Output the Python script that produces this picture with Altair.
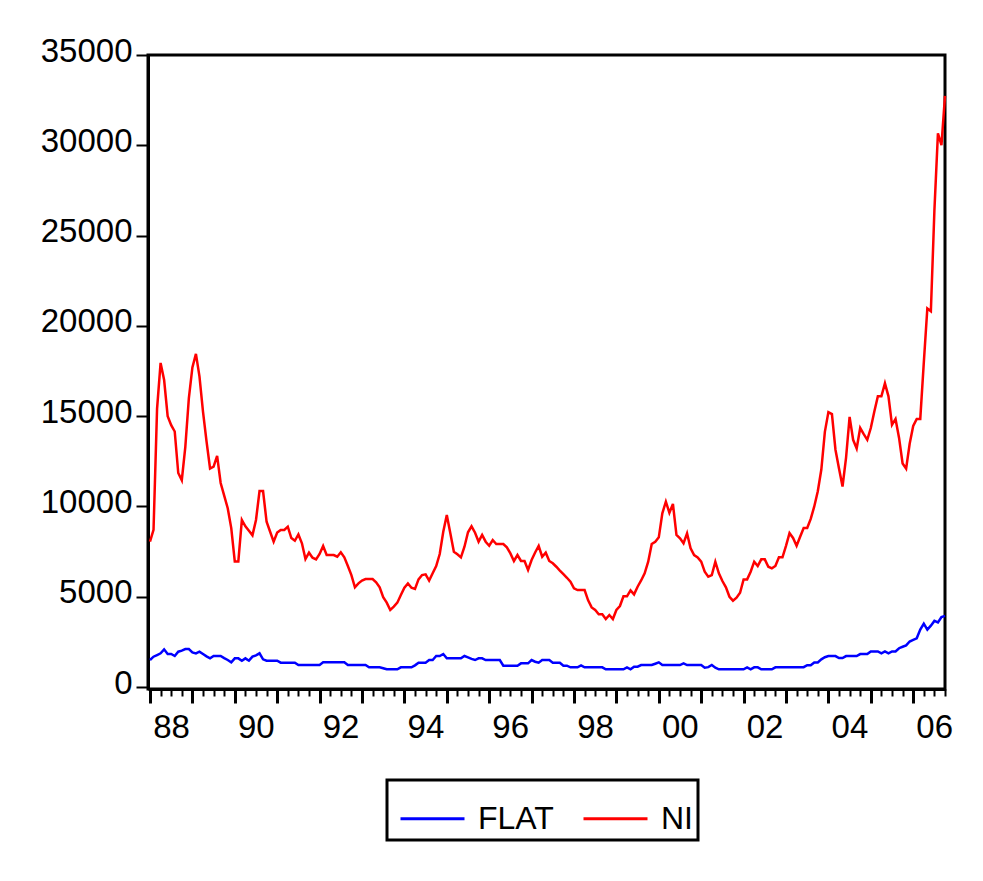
import altair as alt
import pandas as pd

# Monthly observations, 1988M01 onwards
start = "1988-01-01"

ni = [8050, 8700, 15400, 17950, 17000, 15000, 14500, 14150, 11850, 11450,
      13300, 16000, 17700, 18450, 17200, 15250, 13600, 12100, 12200, 12800,
      11300, 10600, 9900, 8800, 6950, 6950, 9250, 8900, 8650, 8400,
      9250, 10850, 10850, 9150, 8600, 8050, 8550, 8700, 8700, 8880,
      8250, 8100, 8450, 7960, 7090, 7440, 7160, 7070, 7365, 7810,
      7310, 7310, 7310, 7216, 7460, 7180, 6700, 6200, 5520, 5740,
      5900, 5980, 5980, 5980, 5800, 5520, 4970, 4670, 4265, 4450,
      4670, 5100, 5500, 5740, 5500, 5430, 5960, 6200, 6240, 5890,
      6300, 6700, 7365, 8600, 9525, 8510, 7490, 7350, 7180, 7770,
      8570, 8900, 8545, 8047, 8420, 8047, 7825, 8140, 7920, 7920,
      7920, 7735, 7400, 6980, 7310, 6980, 6980, 6480, 7030, 7450,
      7810, 7216, 7440, 6980, 6850, 6660, 6450, 6250, 6050, 5830,
      5465, 5370, 5370, 5370, 4800, 4410, 4265, 4025, 4025, 3765,
      3987, 3765, 4265, 4485, 5020, 5020, 5350, 5130, 5555, 5900,
      6300, 6940, 7920, 8047, 8290, 9620, 10262, 9650, 10135, 8420,
      8235, 7960, 8510, 7680, 7310, 7180, 6940, 6385, 6110, 6200,
      6940, 6300, 5870, 5520, 5000, 4780, 4945, 5220, 5960, 5960,
      6385, 6940, 6700, 7070, 7070, 6660, 6570, 6700, 7180, 7180,
      7820, 8520, 8257, 7820, 8323, 8805, 8805, 9310, 10000, 10843,
      12045, 14128, 15224, 15113, 13142, 12100, 11104, 12704, 14958, 13690,
      13208, 14343, 14000, 13690, 14343, 15262, 16099, 16099, 16819, 16099,
      14520, 14847, 13795, 12377, 12090, 13468, 14454, 14847, 14847, 17960,
      20960, 20806, 26388, 30660, 30005, 32740]

flat = [1495, 1680, 1772, 1865, 2085, 1828, 1828, 1717, 1957, 2012,
        2105, 2105, 1920, 1865, 1957, 1828, 1700, 1588, 1717, 1717,
        1717, 1600, 1495, 1366, 1588, 1588, 1458, 1588, 1458, 1680,
        1750, 1865, 1532, 1458, 1458, 1458, 1458, 1347, 1347, 1347,
        1347, 1347, 1218, 1218, 1218, 1218, 1218, 1218, 1218, 1366,
        1366, 1366, 1366, 1366, 1366, 1366, 1218, 1218, 1218, 1218,
        1218, 1218, 1090, 1090, 1090, 1090, 1040, 980, 980, 980,
        980, 1090, 1090, 1090, 1090, 1200, 1347, 1347, 1347, 1495,
        1495, 1717, 1717, 1828, 1588, 1588, 1588, 1588, 1588, 1717,
        1643, 1560, 1495, 1588, 1588, 1495, 1495, 1495, 1495, 1495,
        1180, 1180, 1180, 1180, 1180, 1310, 1310, 1310, 1495, 1400,
        1347, 1495, 1495, 1495, 1347, 1347, 1347, 1180, 1180, 1090,
        1090, 1090, 1200, 1090, 1090, 1090, 1090, 1090, 1090, 980,
        980, 980, 980, 980, 980, 1090, 980, 1125, 1125, 1218,
        1218, 1218, 1218, 1290, 1366, 1218, 1218, 1218, 1218, 1218,
        1218, 1310, 1218, 1218, 1218, 1218, 1218, 1070, 1100, 1218,
        1070, 980, 980, 980, 980, 980, 980, 980, 980, 1090,
        980, 1090, 1090, 980, 980, 980, 980, 1090, 1090, 1097,
        1097, 1097, 1097, 1097, 1097, 1097, 1207, 1207, 1362, 1362,
        1534, 1650, 1711, 1711, 1711, 1600, 1600, 1711, 1711, 1711,
        1711, 1822, 1822, 1822, 1972, 1972, 1972, 1866, 1972, 1866,
        1972, 1972, 2149, 2230, 2304, 2520, 2610, 2697, 3179, 3506,
        3179, 3395, 3661, 3572, 3877, 3943]

series_names = ["FLAT", "NI"]
series_colors = ["#0000FF", "#FF0000"]
y_ticks = [0, 5000, 10000, 15000, 20000, 25000, 30000, 35000]
first_year, last_year = 1988, 2006

dates = pd.date_range(start, periods=len(ni), freq="MS")
t = dates.year + (dates.month - 1) / 12.0

df = pd.concat([
    pd.DataFrame({"t": t, "value": flat, "series": "FLAT"}),
    pd.DataFrame({"t": t, "value": ni, "series": "NI"}),
])

quarters = [first_year + q * 0.25 for q in range((last_year - first_year + 1) * 4)]

FONT = "Liberation Sans"

x_axis = alt.Axis(
    values=quarters,
    title=None,
    grid=False,
    domainColor="black",
    domainWidth=3,
    tickColor="black",
    tickSize={"condition": {"test": "datum.value % 1 == 0", "value": 14}, "value": 7},
    tickWidth={"condition": {"test": "datum.value % 1 == 0", "value": 3}, "value": 2},
    labelExpr="datum.value % 2 == 0 ? substring(toString(datum.value), 2, 4) : ''",
    labelOffset=21,
    labelFont=FONT,
    labelFontSize=33,
    labelColor="black",
    labelPadding=8,
    labelOverlap=False,
    labelFlush=False,
    labelBound=False,
)

y_axis = alt.Axis(
    values=y_ticks,
    format="d",
    title=None,
    grid=False,
    domainColor="black",
    domainWidth=3,
    tickColor="black",
    tickSize=12,
    tickWidth=2,
    labelFont=FONT,
    labelFontSize=33,
    labelColor="black",
    labelPadding=4,
    labelOffset=-4,
)

chart = alt.Chart(df).mark_line(strokeWidth=2.5).encode(
    x=alt.X("t:Q", scale=alt.Scale(domain=[1987.953, 2006.75], nice=False, zero=False), axis=x_axis),
    y=alt.Y("value:Q", scale=alt.Scale(domain=[-110, 35000], nice=False), axis=y_axis),
    color=alt.Color(
        "series:N",
        scale=alt.Scale(domain=series_names, range=series_colors),
        legend=alt.Legend(
            title=None,
            orient="none",
            legendX=239,
            legendY=725,
            direction="horizontal",
            symbolType="stroke",
            symbolSize=4096,
            symbolStrokeWidth=3,
            symbolOffset=7,
            labelFont=FONT,
            labelFontSize=32,
            labelColor="black",
            labelOffset=12,
            columnPadding=21,
            padding=5,
            strokeColor="black",
            fillColor="white",
        ),
    ),
    detail="series:N",
).properties(
    width=797,
    height=634,
    autosize=alt.AutoSizeParams(type="none"),
    padding={"left": 148, "top": 55, "right": 38, "bottom": 192},
    background="white",
).configure_view(
    stroke="black",
    strokeWidth=3,
).configure_legend(
    strokeWidth=3,
)

chart.save("out.html", embed_options={"renderer": "svg", "actions": False})
